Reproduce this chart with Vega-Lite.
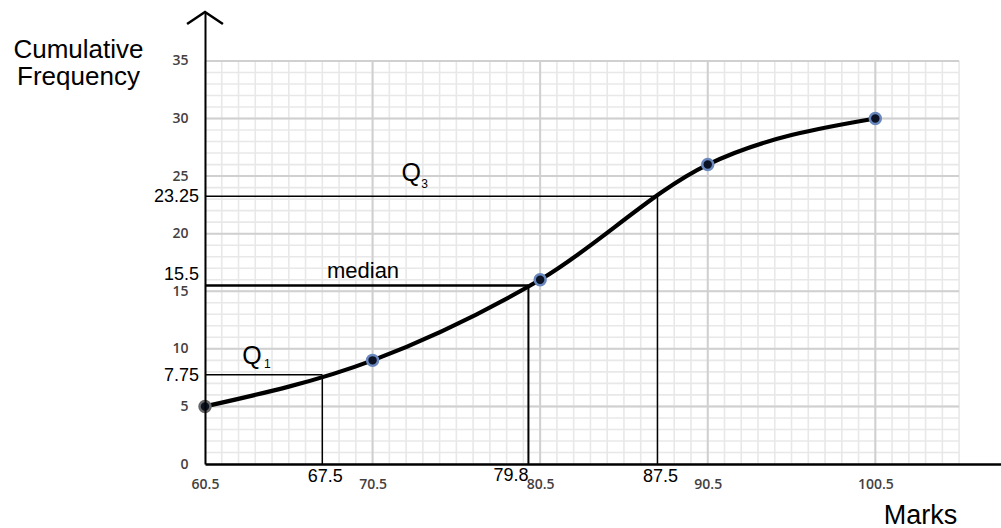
{
  "$schema": "https://vega.github.io/schema/vega-lite/v6.json",
  "autosize": {"type": "none"},
  "padding": {"left": 205, "top": 12, "right": 0, "bottom": 64},
  "width": 796,
  "height": 452,
  "background": "white",
  "config": {"view": {"stroke": null}},
  "datasets": {
    "vminor": [{"x":60.5},{"x":61.5},{"x":62.5},{"x":63.5},{"x":64.5},{"x":65.5},{"x":66.5},{"x":67.5},{"x":68.5},{"x":69.5},{"x":70.5},{"x":71.5},{"x":72.5},{"x":73.5},{"x":74.5},{"x":75.5},{"x":76.5},{"x":77.5},{"x":78.5},{"x":79.5},{"x":80.5},{"x":81.5},{"x":82.5},{"x":83.5},{"x":84.5},{"x":85.5},{"x":86.5},{"x":87.5},{"x":88.5},{"x":89.5},{"x":90.5},{"x":91.5},{"x":92.5},{"x":93.5},{"x":94.5},{"x":95.5},{"x":96.5},{"x":97.5},{"x":98.5},{"x":99.5},{"x":100.5},{"x":101.5},{"x":102.5},{"x":103.5},{"x":104.5},{"x":105.5}],
    "hminor": [{"y":0},{"y":1},{"y":2},{"y":3},{"y":4},{"y":5},{"y":6},{"y":7},{"y":8},{"y":9},{"y":10},{"y":11},{"y":12},{"y":13},{"y":14},{"y":15},{"y":16},{"y":17},{"y":18},{"y":19},{"y":20},{"y":21},{"y":22},{"y":23},{"y":24},{"y":25},{"y":26},{"y":27},{"y":28},{"y":29},{"y":30},{"y":31},{"y":32},{"y":33},{"y":34},{"y":35}],
    "vmajor": [{"x":70.5},{"x":80.5},{"x":90.5},{"x":100.5}],
    "hmajor": [{"y":5},{"y":10},{"y":15},{"y":20},{"y":25},{"y":30},{"y":35}],
    "quartiles": [
      {"name":"Q1","x":67.5,"y":7.75},
      {"name":"median","x":79.8,"y":15.5},
      {"name":"Q3","x":87.5,"y":23.25}
    ],
    "cf": [
      {"x":60.5,"y":5},
      {"x":70.5,"y":9},
      {"x":80.5,"y":16},
      {"x":90.5,"y":26},
      {"x":100.5,"y":30}
    ],
    "qletters": [
      {"x":63.31,"y":8.68,"text":"Q"},
      {"x":72.8,"y":24.57,"text":"Q"}
    ],
    "qsubs": [
      {"x":64.02,"y":8.34,"text":"1"},
      {"x":73.4,"y":23.97,"text":"3"}
    ],
    "medianlabel": [{"x":69.93,"y":16.15,"text":"median"}],
    "ylabels": [{"y":23.25,"text":"23.25"},{"y":7.75,"text":"7.75"}],
    "ylabelmed": [{"y":15.5,"text":"15.5"}],
    "xlabels": [{"x":67.5,"text":"67.5"},{"x":87.5,"text":"87.5"}],
    "xlabelmed": [{"x":79.8,"text":"79.8"}],
    "arrow": [
      {"k":1,"x":59.43,"y":38.21},
      {"k":2,"x":60.5,"y":39.25},
      {"k":3,"x":61.57,"y":38.21}
    ]
  },
  "layer": [
    {
      "data": {"name": "cf"},
      "mark": {"type": "point", "opacity": 0},
      "encoding": {
        "x": {
          "field": "x", "type": "quantitative",
          "scale": {"domain": [60.5, 108], "nice": false, "zero": false},
          "axis": {
            "values": [60.5, 70.5, 80.5, 90.5, 100.5],
            "format": ".1f",
            "grid": false, "ticks": false,
            "domainColor": "black", "domainWidth": 2.5,
            "labelFont": "Open Sans", "labelFontSize": 14, "labelFontWeight": 600,
            "labelColor": "#454040", "labelPadding": 13, "labelFlush": false,
            "labelOverlap": false, "labelDx": -2,
            "title": "Marks", "titleFont": "Liberation Sans", "titleFontSize": 27,
            "titleFontWeight": "normal", "titleColor": "black",
            "titleX": 715, "titleY": 59, "titleAlign": "center", "titleBaseline": "alphabetic",
            "zindex": 1
          }
        },
        "y": {
          "field": "y", "type": "quantitative",
          "scale": {"domain": [0, 39.25], "nice": false, "zero": false},
          "axis": {
            "values": [0, 5, 10, 15, 20, 25, 30, 35],
            "grid": false, "ticks": false,
            "domainColor": "black", "domainWidth": 2,
            "labelFont": "Open Sans", "labelFontSize": 14, "labelFontWeight": 600,
            "labelColor": "#454040", "labelPadding": 17, "labelOverlap": false,
            "title": ["Cumulative", "Frequency"], "titleFont": "Liberation Sans",
            "titleFontSize": 26, "titleFontWeight": "normal", "titleColor": "black",
            "titleAngle": 0, "titleX": -127, "titleY": 45, "titleAlign": "center",
            "titleBaseline": "alphabetic", "titleLineHeight": 27,
            "zindex": 1
          }
        }
      }
    },
    {
      "data": {"name": "vminor"},
      "mark": {"type": "rule", "color": "#e8e8e8", "strokeWidth": 1.6},
      "encoding": {
        "x": {"field": "x", "type": "quantitative"},
        "y": {"datum": 0},
        "y2": {"datum": 35}
      }
    },
    {
      "data": {"name": "hminor"},
      "mark": {"type": "rule", "color": "#e8e8e8", "strokeWidth": 1.6},
      "encoding": {
        "y": {"field": "y", "type": "quantitative"},
        "x": {"datum": 60.5},
        "x2": {"datum": 105.5}
      }
    },
    {
      "data": {"name": "vmajor"},
      "mark": {"type": "rule", "color": "#d0d0d0", "strokeWidth": 2},
      "encoding": {
        "x": {"field": "x", "type": "quantitative"},
        "y": {"datum": 0},
        "y2": {"datum": 35}
      }
    },
    {
      "data": {"name": "hmajor"},
      "mark": {"type": "rule", "color": "#d0d0d0", "strokeWidth": 2},
      "encoding": {
        "y": {"field": "y", "type": "quantitative"},
        "x": {"datum": 60.5},
        "x2": {"datum": 105.5}
      }
    },
    {
      "data": {"name": "quartiles"},
      "mark": {"type": "rule", "color": "black"},
      "encoding": {
        "y": {"field": "y", "type": "quantitative"},
        "x": {"field": "x", "type": "quantitative"},
        "x2": {"datum": 60.5},
        "strokeWidth": {"condition": {"test": "datum.name === 'median'", "value": 2.5}, "value": 1.5}
      }
    },
    {
      "data": {"name": "quartiles"},
      "mark": {"type": "rule", "color": "black"},
      "encoding": {
        "x": {"field": "x", "type": "quantitative"},
        "y": {"field": "y", "type": "quantitative"},
        "y2": {"datum": 0},
        "strokeWidth": {"condition": {"test": "datum.name === 'median'", "value": 2}, "value": 1.5}
      }
    },
    {
      "data": {"name": "cf"},
      "mark": {"type": "line", "color": "black", "strokeWidth": 4.2, "interpolate": "monotone"},
      "encoding": {
        "x": {"field": "x", "type": "quantitative"},
        "y": {"field": "y", "type": "quantitative"}
      }
    },
    {
      "data": {"name": "cf"},
      "mark": {"type": "point", "filled": true, "fill": "#0b1224", "strokeWidth": 2.5, "size": 120, "opacity": 1, "strokeOpacity": 1, "fillOpacity": 1},
      "encoding": {
        "x": {"field": "x", "type": "quantitative"},
        "y": {"field": "y", "type": "quantitative"},
        "stroke": {"condition": {"test": "datum.x === 60.5", "value": "#666666"}, "value": "#6a88bd"}
      }
    },
    {
      "data": {"name": "qletters"},
      "mark": {"type": "text", "font": "Liberation Sans", "fontSize": 25, "align": "center", "baseline": "alphabetic", "color": "black"},
      "encoding": {
        "x": {"field": "x", "type": "quantitative"},
        "y": {"field": "y", "type": "quantitative"},
        "text": {"field": "text"}
      }
    },
    {
      "data": {"name": "qsubs"},
      "mark": {"type": "text", "font": "Liberation Sans", "fontSize": 12, "align": "left", "baseline": "alphabetic", "color": "black"},
      "encoding": {
        "x": {"field": "x", "type": "quantitative"},
        "y": {"field": "y", "type": "quantitative"},
        "text": {"field": "text"}
      }
    },
    {
      "data": {"name": "medianlabel"},
      "mark": {"type": "text", "font": "Liberation Sans", "fontSize": 22, "align": "center", "baseline": "alphabetic", "color": "black"},
      "encoding": {
        "x": {"field": "x", "type": "quantitative"},
        "y": {"field": "y", "type": "quantitative"},
        "text": {"field": "text"}
      }
    },
    {
      "data": {"name": "ylabels"},
      "mark": {"type": "text", "font": "Liberation Sans", "fontSize": 18, "align": "right", "baseline": "middle", "dx": -6, "dy": 1, "color": "black"},
      "encoding": {
        "x": {"datum": 60.5},
        "y": {"field": "y", "type": "quantitative"},
        "text": {"field": "text"}
      }
    },
    {
      "data": {"name": "ylabelmed"},
      "mark": {"type": "text", "font": "Liberation Sans", "fontSize": 18, "align": "right", "baseline": "middle", "dx": -6, "dy": -11, "color": "black"},
      "encoding": {
        "x": {"datum": 60.5},
        "y": {"field": "y", "type": "quantitative"},
        "text": {"field": "text"}
      }
    },
    {
      "data": {"name": "xlabels"},
      "mark": {"type": "text", "font": "Liberation Sans", "fontSize": 18, "align": "center", "baseline": "middle", "dx": 3, "dy": 12.5, "color": "black"},
      "encoding": {
        "x": {"field": "x", "type": "quantitative"},
        "y": {"datum": 0},
        "text": {"field": "text"}
      }
    },
    {
      "data": {"name": "xlabelmed"},
      "mark": {"type": "text", "font": "Liberation Sans", "fontSize": 18, "align": "right", "baseline": "middle", "dx": 0, "dy": 11.5, "color": "black"},
      "encoding": {
        "x": {"field": "x", "type": "quantitative"},
        "y": {"datum": 0},
        "text": {"field": "text"}
      }
    },
    {
      "data": {"name": "arrow"},
      "mark": {"type": "line", "color": "black", "strokeWidth": 2.5},
      "encoding": {
        "x": {"field": "x", "type": "quantitative"},
        "y": {"field": "y", "type": "quantitative"},
        "order": {"field": "k", "type": "quantitative"}
      }
    }
  ]
}
